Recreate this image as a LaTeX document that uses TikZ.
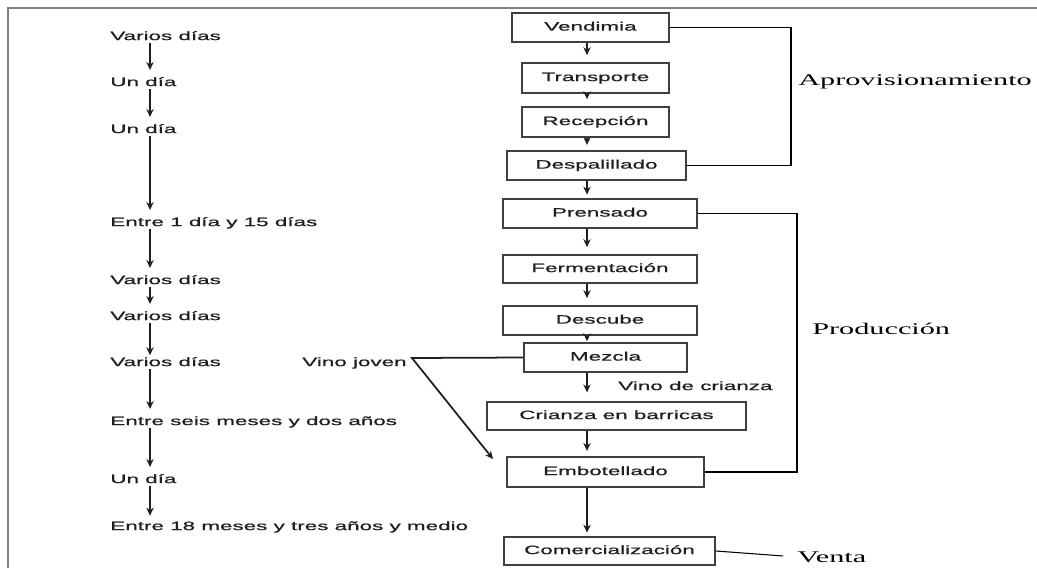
\documentclass[tikz,border=0pt]{standalone}
\usepackage{fontspec}
\usepackage{xcolor}
\usepackage{tikz}
\usetikzlibrary{positioning}
\usetikzlibrary{calc}
\usetikzlibrary{arrows.meta}

\newfontfamily\widesans[FakeStretch=1.85,FakeBold=0.8]{Liberation Sans}
\newfontfamily\wideserif[FakeStretch=1.85]{Liberation Serif}
\definecolor{ink}{gray}{0.12}
\definecolor{frame}{gray}{0.5}

\begin{document}
\begin{tikzpicture}[x=0.02cm,y=-0.02cm,
    dur/.style={anchor=west,inner sep=0pt,text height=5pt,text depth=1.5pt,text=ink,
        font=\widesans\fontsize{6.9}{8}\selectfont},
    stage/.style={draw=ink!85,line width=1pt,inner sep=0pt,text height=5pt,text depth=1.5pt,
        text=ink,font=\widesans\fontsize{6.9}{8}\selectfont},
    phase/.style={anchor=west,inner sep=0pt,font=\wideserif\fontsize{9.3}{11}\selectfont},
    arr/.style={draw=ink,line width=1pt,-{Stealth[length=4.5pt,width=4.2pt]}},
    brk/.style={line width=1.1pt}]

    \useasboundingbox (0,0) rectangle (1037,568);
    \draw[frame,line width=1pt] (8,568) -- (8,8) -- (1037,8);

    \coordinate (lx) at (150,0);
    \coordinate (rx) at (587,0);
    \coordinate (ap) at (791,0);
    \coordinate (pr) at (797,0);

    \node[dur] (d1)  at (110, 37) {Varios días};
    \node[dur] (d2)  at (110, 83) {Un día};
    \node[dur] (d3)  at (110,130) {Un día};
    \node[dur] (d4)  at (110,223) {Entre 1 día y 15 días};
    \node[dur] (d5)  at (110,281) {Varios días};
    \node[dur] (d6)  at (110,317) {Varios días};
    \node[dur] (d7)  at (110,363) {Varios días};
    \node[dur] (d8)  at (110,422) {Entre seis meses y dos años};
    \node[dur] (d9)  at (110,480) {Un día};
    \node[dur] (d10) at (110,527) {Entre 18 meses y tres años y medio};

    \node[stage,minimum width=3.14cm,minimum height=0.58cm] (vend)  at (590.5, 27.5) {Vendimia};
    \node[stage,minimum width=2.94cm,minimum height=0.60cm] (trans) at (595.5, 78)   {Transporte};
    \node[stage,minimum width=2.94cm,minimum height=0.60cm] (recep) at (595.5,122)   {Recepción};
    \node[stage,minimum width=3.58cm,minimum height=0.58cm] (desp)  at (596.5,165.5) {Despalillado};
    \node[stage,minimum width=3.88cm,minimum height=0.58cm] (prens) at (600,213.5)   {Prensado};
    \node[stage,minimum width=3.88cm,minimum height=0.56cm] (ferm)  at (600,269)     {Fermentación};
    \node[stage,minimum width=3.88cm,minimum height=0.58cm] (desc)  at (600,320.5)   {Descube};
    \node[stage,minimum width=3.26cm,minimum height=0.58cm] (mezc)  at (605.5,357.5) {Mezcla};
    \node[stage,minimum width=5.18cm,minimum height=0.56cm] (crian) at (616.5,416)   {Crianza en barricas};
    \node[stage,minimum width=3.94cm,minimum height=0.60cm] (embot) at (605.5,472)   {Embotellado};
    \node[stage,minimum width=4.22cm,minimum height=0.56cm] (comer) at (609.5,551)   {Comercialización};

    \node[dur] (vjov) at (302,363) {Vino joven};
    \node[dur] (vcri) at (618,387) {Vino de crianza};
    \coordinate (vj)  at (412,358);
    \coordinate (tip) at (493,459);

    \node[phase] (aprov) at (798, 82) {Aprovisionamiento};
    \node[phase] (prod)  at (812,329) {Producción};
    \node[phase] (venta) at (797,557) {Venta};

    \draw[arr,shorten >=4pt] (d1.south -| lx) -- (d2.north -| lx);
    \draw[arr,shorten >=4pt] (d2.south -| lx) -- (d3.north -| lx);
    \draw[arr,shorten >=4pt] (d3.south -| lx) -- (d4.north -| lx);
    \draw[arr,shorten >=4pt] (d4.south -| lx) -- (d5.north -| lx);
    \draw[arr,shorten >=4pt] (d5.south -| lx) -- (d6.north -| lx);
    \draw[arr,shorten >=1pt] (d6.south -| lx) -- (d7.north -| lx);
    \draw[arr,shorten >=4pt] (d7.south -| lx) -- (d8.north -| lx);
    \draw[arr,shorten >=4pt] (d8.south -| lx) -- (d9.north -| lx);
    \draw[arr,shorten >=3pt] (d9.south -| lx) -- (d10.north -| lx);

    \draw[arr,shorten >=4pt] (vend.south -| rx)  -- (trans.north -| rx);
    \draw[arr,shorten >=4pt] (trans.south -| rx) -- (recep.north -| rx);
    \draw[arr,shorten >=3pt] (recep.south -| rx) -- (desp.north -| rx);
    \draw[arr,shorten >=2pt] (desp.south -| rx)  -- (prens.north -| rx);
    \draw[arr,shorten >=4pt] (prens.south -| rx) -- (ferm.north -| rx);
    \draw[arr,shorten >=4pt] (ferm.south -| rx)  -- (desc.north -| rx);
    \draw[arr,shorten >=0.5pt] (desc.south -| rx) -- (mezc.north -| rx);
    \draw[arr,shorten >=5pt] (mezc.south -| rx)  -- (crian.north -| rx);
    \draw[arr,shorten >=3pt] (crian.south -| rx) -- (embot.north -| rx);
    \draw[arr,shorten >=2pt] (embot.south -| rx) -- (comer.north -| rx);

    \draw[arr] (mezc.west) -- (vj) -- (tip);

    \draw[brk] (vend.east) -- (vend.east -| ap) -- (desp.east -| ap) -- (desp.east);
    \draw[brk] (prens.east) -- (prens.east -| pr) -- (embot.east -| pr) -- (embot.east);
    \draw[line width=0.6pt,shorten >=0.28cm] (comer.east) -- (venta.west);
\end{tikzpicture}
\end{document}
